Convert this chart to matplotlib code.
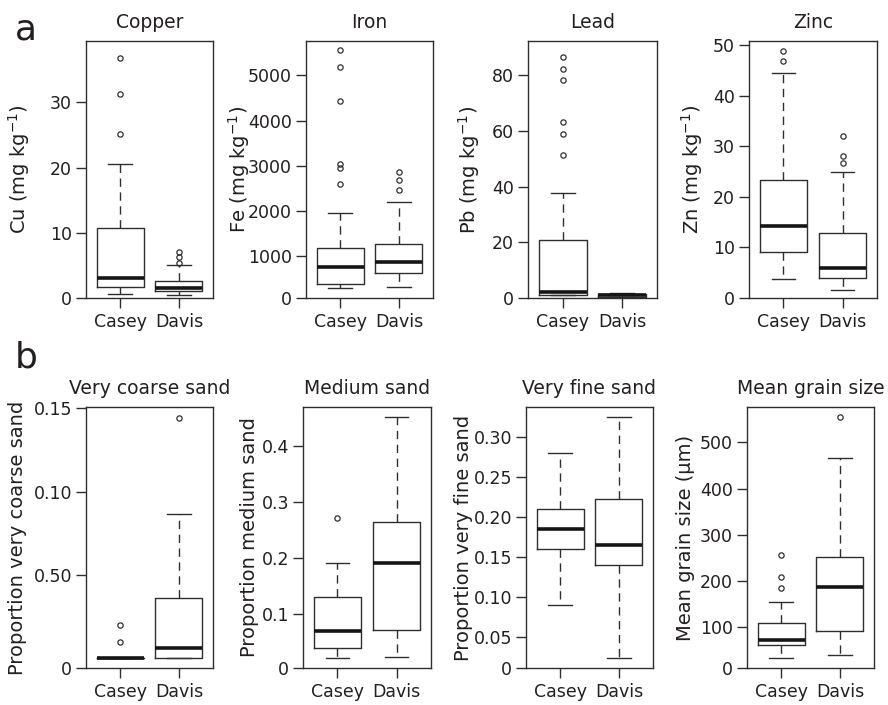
import matplotlib
matplotlib.use("Agg")
import matplotlib.pyplot as plt

# sites on the x axis
groups = ["Casey", "Davis"]

# five-number summaries per site: whisker low, Q1, median, Q3, whisker high
cu_stats = [[0.6, 1.7, 3.0, 10.7, 20.5], [0.4, 1.0, 1.5, 2.6, 5.0]]
cu_out = [[25.1, 31.2, 36.8], [5.4, 6.3, 7.1]]

fe_stats = [[276, 373, 750, 1177, 1945], [307, 630, 874, 1259, 2202]]
fe_out = [[2600, 2955, 3030, 4431, 5178, 5560], [2461, 2676, 2860]]

pb_stats = [[0.9, 1.2, 2.1, 20.8, 37.6], [0.2, 0.5, 0.9, 1.3, 1.9]]
pb_out = [[51.3, 58.8, 63.2, 78.4, 82.2, 86.7], []]

zn_stats = [[3.8, 9.1, 14.3, 23.3, 44.4], [1.5, 4.0, 6.0, 12.8, 25.0]]
zn_out = [[46.9, 48.9], [26.7, 28.1, 32.1]]

vcs_stats = [[0.0, 0.0, 0.0, 0.0, 0.0], [0.0, 0.0, 0.0063, 0.0361, 0.0867]]
vcs_out = [[0.010, 0.020], [0.1443]]

ms_stats = [[0.021, 0.040, 0.070, 0.130, 0.190], [0.023, 0.071, 0.190, 0.264, 0.452]]
ms_out = [[0.271], []]

vfs_stats = [[0.090, 0.160, 0.185, 0.210, 0.280], [0.024, 0.140, 0.165, 0.223, 0.326]]
vfs_out = [[], []]

mgs_stats = [[32, 61, 71, 109, 155], [39, 91, 187, 252, 467]]
mgs_out = [[184, 209, 255], [556]]

titles = ["Copper", "Iron", "Lead", "Zinc",
          "Very coarse sand", "Medium sand", "Very fine sand", "Mean grain size"]
ylabels = [r"Cu (mg kg$^{-1}$)", r"Fe (mg kg$^{-1}$)", r"Pb (mg kg$^{-1}$)",
           r"Zn (mg kg$^{-1}$)", "Proportion very coarse sand",
           "Proportion medium sand", "Proportion very fine sand",
           "Mean grain size (\u00b5m)"]
ytick_vals = [[10, 20, 30], [1000, 2000, 3000, 4000, 5000], [20, 40, 60, 80],
              [10, 20, 30, 40, 50], [0.05, 0.10, 0.15], [0.1, 0.2, 0.3, 0.4],
              [0.05, 0.10, 0.15, 0.20, 0.25, 0.30], [100, 200, 300, 400, 500]]
ytick_text = [["10", "20", "30"], ["1000", "2000", "3000", "4000", "5000"],
              ["20", "40", "60", "80"], ["10", "20", "30", "40", "50"],
              ["0.50", "0.10", "0.15"], ["0.1", "0.2", "0.3", "0.4"],
              ["0.05", "0.10", "0.15", "0.20", "0.25", "0.30"],
              ["100", "200", "300", "400", "500"]]
ylims = [(0, 39.4), (65, 5765), (0, 92.3), (0, 50.8),
         (-0.0058, 0.1508), (0.0035, 0.469), (0.0118, 0.338), (11.2, 576.6)]

all_stats = [cu_stats, fe_stats, pb_stats, zn_stats,
             vcs_stats, ms_stats, vfs_stats, mgs_stats]
all_out = [cu_out, fe_out, pb_out, zn_out, vcs_out, ms_out, vfs_out, mgs_out]

# axes boxes in pixels (left, right, top, bottom) and ylabel offset
W, H = 888, 705
boxes = [(86, 213, 41, 298), (306, 433, 41, 298), (528, 657, 41, 298),
         (749, 877, 41, 298), (86, 213, 407, 668), (303, 431, 407, 668),
         (526, 653, 407, 668), (747, 874, 407, 668)]
lab_off = [54, 54, 46, 44, 59, 44, 53, 52]

ink = "#231f20"
line = "#2e2e2e"
plt.rcParams["font.family"] = "DejaVu Sans"
plt.rcParams["text.color"] = ink
plt.rcParams["lines.scale_dashes"] = False

fig = plt.figure(figsize=(W / 100, H / 100), dpi=100)

for i in range(8):
    l, r, t, b = boxes[i]
    ax = fig.add_axes([l / W, 1 - b / H, (r - l) / W, (b - t) / H])
    bx = []
    for j, name in enumerate(groups):
        lo, q1, med, q3, hi = all_stats[i][j]
        bx.append(dict(label=name, whislo=lo, q1=q1, med=med, q3=q3,
                       whishi=hi, fliers=all_out[i][j]))
    ax.bxp(bx, positions=[1, 2], widths=0.8, capwidths=0.4,
           boxprops=dict(color=line, lw=1.0),
           medianprops=dict(color="#151515", lw=2.6, solid_capstyle="butt"),
           whiskerprops=dict(color=line, lw=1.0, linestyle=(0, (6, 4))),
           capprops=dict(color=line, lw=1.0),
           flierprops=dict(marker="o", mfc="none", mec=line, ms=3.8, mew=0.9))
    ax.set_xlim(0.42, 2.58)
    ylo, yhi = ylims[i]
    ax.set_ylim(ylo, yhi)
    # the "0" label sits on the bottom edge of the frame
    ax.set_yticks([ylo] + ytick_vals[i])
    ax.set_yticklabels(["0"] + ytick_text[i])
    ax.set_xticks([1, 2])
    ax.set_xticklabels(groups)
    ax.tick_params(direction="out", length=7, width=1.0, color=line,
                   labelsize=12.5, labelcolor=ink, pad=3)
    ax.tick_params(axis="x", pad=4)
    for s in ax.spines.values():
        s.set_color(line)
        s.set_linewidth(1.0)
    ax.set_title(titles[i], fontsize=13.5, pad=9, color=ink)
    ax.set_ylabel(ylabels[i], fontsize=14, color=ink)
    ax.yaxis.set_label_coords(-lab_off[i] / (r - l), 0.5)

fig.text(15 / W, 1 - 40 / H, "a", fontsize=26, ha="left", va="baseline")
fig.text(15 / W, 1 - 368 / H, "b", fontsize=26, ha="left", va="baseline")

fig.savefig("out.png", dpi=100)
